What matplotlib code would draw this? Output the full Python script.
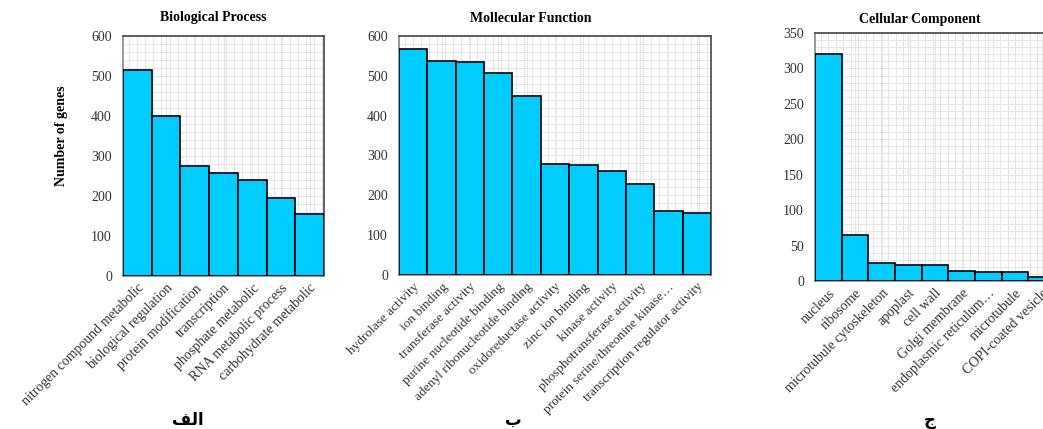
import numpy as np
import matplotlib
matplotlib.use("Agg")
import matplotlib.pyplot as plt
from matplotlib.ticker import MultipleLocator

# Data
bp_labels = ["nitrogen compound metabolic", "biological regulation", "protein modification",
             "transcription", "phosphate metabolic", "RNA metabolic process",
             "carbohydrate metabolic"]
bp_values = [515, 400, 275, 257, 240, 196, 155]

mf_labels = ["hydrolase activity", "ion binding", "transferase activity",
             "purine nucleotide binding", "adenyl ribonucleotide binding",
             "oxidoreductase activity", "zinc ion binding", "kinase activity",
             "phosphotransferase activity", "protein serine/threonine kinase\u2026",
             "transcription regulator activity"]
mf_values = [567, 538, 535, 506, 449, 279, 276, 260, 228, 161, 155]

cc_labels = ["nucleus", "ribosome", "microtubule cytoskeleton", "apoplast", "cell wall",
             "Golgi membrane", "endoplasmic reticulum\u2026", "microtubule",
             "COPI-coated vesicle"]
cc_values = [321, 65, 25, 23, 23, 14, 12, 12, 5]

panel_titles = ["Biological Process", "Mollecular Function", "Cellular Component"]
# Arabic captions (alef-lam-feh, beh, jeem) in presentation forms, visual order
captions = ["\uFED2\uFEDF\uFE8D", "\uFE8F", "\uFE9D"]

plt.rcParams['font.family'] = ['Liberation Serif', 'DejaVu Sans']

W, H = 1043, 429
fig = plt.figure(figsize=(W / 100, H / 100), dpi=100)


def px_axes(x0, y0, x1, y1):
    return fig.add_axes([x0 / W, 1 - y1 / H, (x1 - x0) / W, (y1 - y0) / H])


def draw_panel(ax, labels, values, ymax, ystep, yminor, nx_minor, xfs=10):
    x = np.arange(len(labels))
    ax.set_axisbelow(True)
    ax.bar(x, values, width=1.0, color="#00CCFF", edgecolor="black", linewidth=1.2, zorder=3)
    ax.set_xlim(-0.5, len(labels) - 0.5)
    ax.set_ylim(0, ymax)
    ax.yaxis.set_major_locator(MultipleLocator(ystep))
    ax.yaxis.set_minor_locator(MultipleLocator(yminor))
    ax.xaxis.set_minor_locator(MultipleLocator(nx_minor))
    ax.set_xticks(x)
    ax.set_xticklabels(labels, rotation=45, ha="right", rotation_mode="anchor",
                       fontsize=xfs, color="#333333")
    ax.tick_params(axis="y", labelsize=10, labelcolor="#333333", length=0, pad=8)
    ax.tick_params(axis="x", length=0, pad=4)
    ax.tick_params(which="minor", length=0)
    ax.grid(True, which="both", color="#e6e6e6", linewidth=0.8)
    for side in ["top", "right"]:
        ax.spines[side].set_color("#444444")
        ax.spines[side].set_linewidth(1.2)
    for side in ["left", "bottom"]:
        ax.spines[side].set_color("#888888")
        ax.spines[side].set_linewidth(1.2)


ax1 = px_axes(123, 36, 324, 276)
draw_panel(ax1, bp_labels, bp_values, 600, 100, 20, 0.28)
ax2 = px_axes(399, 36, 711, 275)
draw_panel(ax2, mf_labels, mf_values, 600, 100, 20, 0.28, xfs=9.6)
ax3 = px_axes(815, 33, 1055, 281)
draw_panel(ax3, cc_labels, cc_values, 350, 50, 10, 0.28)

fig.text(213 / W, 1 - 18 / H, panel_titles[0], ha="center", va="center",
         fontsize=10, fontweight="bold")
fig.text(531 / W, 1 - 18 / H, panel_titles[1], ha="center", va="center",
         fontsize=10, fontweight="bold")
fig.text(920 / W, 1 - 20 / H, panel_titles[2], ha="center", va="center",
         fontsize=10, fontweight="bold")

fig.text(62 / W, 1 - 136 / H, "Number of genes", rotation=90, ha="center", va="center",
         fontsize=10, fontweight="bold")

for cx, cap in zip([188, 513, 930], captions):
    fig.text(cx / W, 1 - 420 / H, cap, ha="center", va="center", fontsize=12,
             fontweight="bold", family=["DejaVu Sans"])

fig.savefig("out.png", dpi=100)
